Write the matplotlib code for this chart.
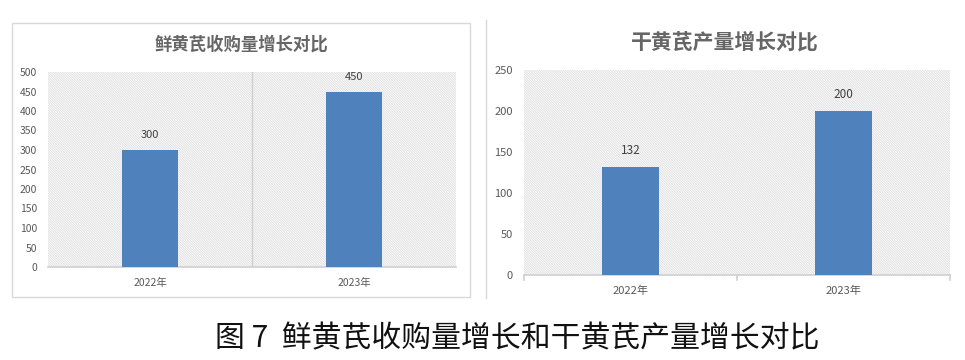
import matplotlib
matplotlib.use("Agg")
import matplotlib.pyplot as plt
from matplotlib.patches import Rectangle
from matplotlib.lines import Line2D

plt.rcParams['font.family'] = ['Noto Sans CJK SC', 'DejaVu Sans']
plt.rcParams['hatch.linewidth'] = 0.6
plt.rcParams['hatch.color'] = '#dcdcdc'

categories = ['2022年', '2023年']
fresh_values = [300, 450]
dry_values = [132, 200]
fresh_title = '鲜黄芪收购量增长对比'
dry_title = '干黄芪产量增长对比'
fresh_yticks = [0, 50, 100, 150, 200, 250, 300, 350, 400, 450, 500]
dry_yticks = [0, 50, 100, 150, 200, 250]
caption = '图 7  鲜黄芪收购量增长和干黄芪产量增长对比'

W, H = 965, 360
BAR = '#4f81bd'
TXT = '#595959'
fig = plt.figure(figsize=(W / 100, H / 100), dpi=100)


def ax_px(x0, y0, x1, y1):
    return fig.add_axes([x0 / W, 1 - y1 / H, (x1 - x0) / W, (y1 - y0) / H])


def draw(ax, values, yticks, bar_w, tick_fs, middle_grid, ticks_marks):
    ax.add_patch(Rectangle((0, 0), 1, 1, transform=ax.transAxes, facecolor='white',
                           edgecolor='#dcdcdc', hatch='\\' * 14, linewidth=0, zorder=0))
    x = list(range(len(categories)))
    ax.bar(x, values, width=bar_w, color=BAR, zorder=3)
    ax.set_xlim(-0.5, len(categories) - 0.5)
    ax.set_ylim(yticks[0], yticks[-1])
    ax.set_yticks(yticks)
    ax.set_xticks(x)
    ax.set_xticklabels(categories)
    for s in ['top', 'right', 'left']:
        ax.spines[s].set_visible(False)
    ax.spines['bottom'].set_color('#d0d0d0')
    ax.spines['bottom'].set_linewidth(1.2)
    ax.tick_params(axis='y', length=0, labelsize=tick_fs, labelcolor=TXT, pad=8)
    ax.tick_params(axis='x', length=0, labelsize=tick_fs, labelcolor=TXT, pad=8)
    if middle_grid:
        ax.axvline(0.5, color='#d0d0d0', lw=1, zorder=1)
    if ticks_marks:
        for xv in [-0.5, 0.5, 1.5]:
            ax.plot([xv, xv], [0, -0.025], transform=ax.get_xaxis_transform(),
                    color='#d0d0d0', lw=1.2, clip_on=False)
    for xi, v in zip(x, values):
        ax.annotate(f'{v}', (xi, v), xytext=(0, 7), textcoords='offset points',
                    ha='center', va='bottom', fontsize=tick_fs + 0.5, color='#404040')


# left chart frame
fig.add_artist(Rectangle((12 / W, 1 - 297 / H), (470 - 12) / W, (297 - 23) / H,
                         transform=fig.transFigure, fill=False, edgecolor='#d9d9d9', lw=1))
ax1 = ax_px(48, 72, 456, 267)
draw(ax1, fresh_values, fresh_yticks, 0.27, 7.5, True, False)
fig.text(242 / W, 1 - 45 / H, fresh_title, ha='center', va='center', fontsize=12.5,
         color='#666666', fontweight='bold')

# right chart frame (left edge visible)
fig.add_artist(Line2D([486 / W, 486 / W], [1 - 298 / H, 1 - 20 / H],
                      transform=fig.transFigure, color='#d9d9d9', lw=1))
ax2 = ax_px(524, 70, 950, 275)
draw(ax2, dry_values, dry_yticks, 0.27, 8, False, True)
fig.text(725 / W, 1 - 42 / H, dry_title, ha='center', va='center', fontsize=15,
         color='#666666', fontweight='bold')

fig.text(517 / W, 1 - 339 / H, caption, ha='center', va='center', fontsize=21.5,
         color='#111111', fontweight='light')

fig.savefig('out.png', dpi=100)
